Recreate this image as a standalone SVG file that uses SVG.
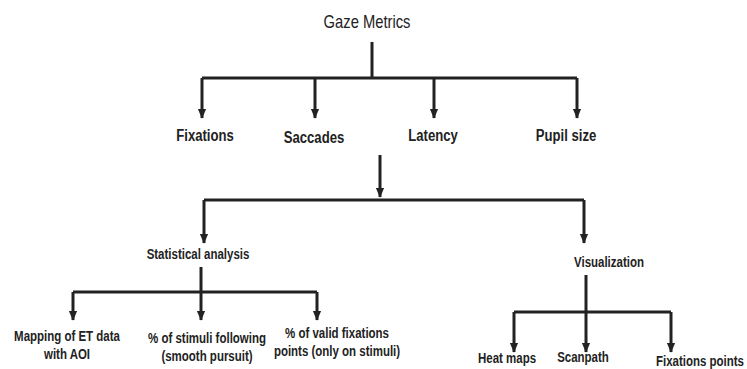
<svg xmlns="http://www.w3.org/2000/svg" width="747" height="369" viewBox="0 0 747 369">
<style>
text{font-family:"Liberation Sans",Arial,sans-serif;fill:#222;text-anchor:middle}
.t{font-size:18px}
.l1{font-size:16px;font-weight:bold}
.l2{font-size:14px;font-weight:bold}
.c{fill:none;stroke:#222;stroke-width:3}
</style>
<defs>
<marker id="a" markerUnits="userSpaceOnUse" markerWidth="10" markerHeight="12" refX="11" refY="5" orient="auto" viewBox="0 0 12 10">
<path d="M0,0 L12,5 L0,10 Z" fill="#222"/>
</marker>
</defs>
<g id="connectors">
<path class="c" d="M372,42 V78"/>
<path class="c" d="M202,78 H577"/>
<path class="c" d="M202,78 V118" marker-end="url(#a)"/>
<path class="c" d="M315,78 V118" marker-end="url(#a)"/>
<path class="c" d="M434,78 V118" marker-end="url(#a)"/>
<path class="c" d="M577,78 V118" marker-end="url(#a)"/>
<path class="c" d="M380,155 V197" marker-end="url(#a)"/>
<path class="c" d="M204,200 H584"/>
<path class="c" d="M204,200 V243" marker-end="url(#a)"/>
<path class="c" d="M584,200 V243" marker-end="url(#a)"/>
<path class="c" d="M201,267 V292"/>
<path class="c" d="M73,292 H317"/>
<path class="c" d="M73,292 V320" marker-end="url(#a)"/>
<path class="c" d="M201,292 V320" marker-end="url(#a)"/>
<path class="c" d="M317,292 V320" marker-end="url(#a)"/>
<path class="c" d="M586,275 V312"/>
<path class="c" d="M514,312 H671"/>
<path class="c" d="M514,312 V352" marker-end="url(#a)"/>
<path class="c" d="M586,312 V352" marker-end="url(#a)"/>
<path class="c" d="M671,312 V352" marker-end="url(#a)"/>
</g>
<g id="gaze-metrics"><text class="t" transform="translate(367,28) scale(0.82,1)">Gaze Metrics</text></g>
<g id="fixations"><text class="l1" transform="translate(205,141) scale(0.82,1)">Fixations</text></g>
<g id="saccades"><text class="l1" transform="translate(314,143) scale(0.82,1)">Saccades</text></g>
<g id="latency"><text class="l1" transform="translate(433,141) scale(0.82,1)">Latency</text></g>
<g id="pupil-size"><text class="l1" transform="translate(566,141) scale(0.82,1)">Pupil size</text></g>
<g id="statistical-analysis"><text class="l2" transform="translate(198,259) scale(0.82,1)">Statistical analysis</text></g>
<g id="visualization"><text class="l2" transform="translate(609,267) scale(0.82,1)">Visualization</text></g>
<g id="mapping"><text class="l2" transform="translate(67,341) scale(0.82,1)">Mapping of ET data</text><text class="l2" transform="translate(67,359) scale(0.82,1)">with AOI</text></g>
<g id="stimuli-following"><text class="l2" transform="translate(207,343) scale(0.82,1)">% of stimuli following</text><text class="l2" transform="translate(207,361) scale(0.82,1)">(smooth pursuit)</text></g>
<g id="valid-fixations"><text class="l2" transform="translate(337,338) scale(0.82,1)">% of valid fixations</text><text class="l2" transform="translate(337,356) scale(0.82,1)">points (only on stimuli)</text></g>
<g id="heat-maps"><text class="l2" transform="translate(507,363) scale(0.82,1)">Heat maps</text></g>
<g id="scanpath"><text class="l2" transform="translate(583,362) scale(0.82,1)">Scanpath</text></g>
<g id="fixations-points"><text class="l2" transform="translate(700,366) scale(0.82,1)">Fixations points</text></g>
</svg>
